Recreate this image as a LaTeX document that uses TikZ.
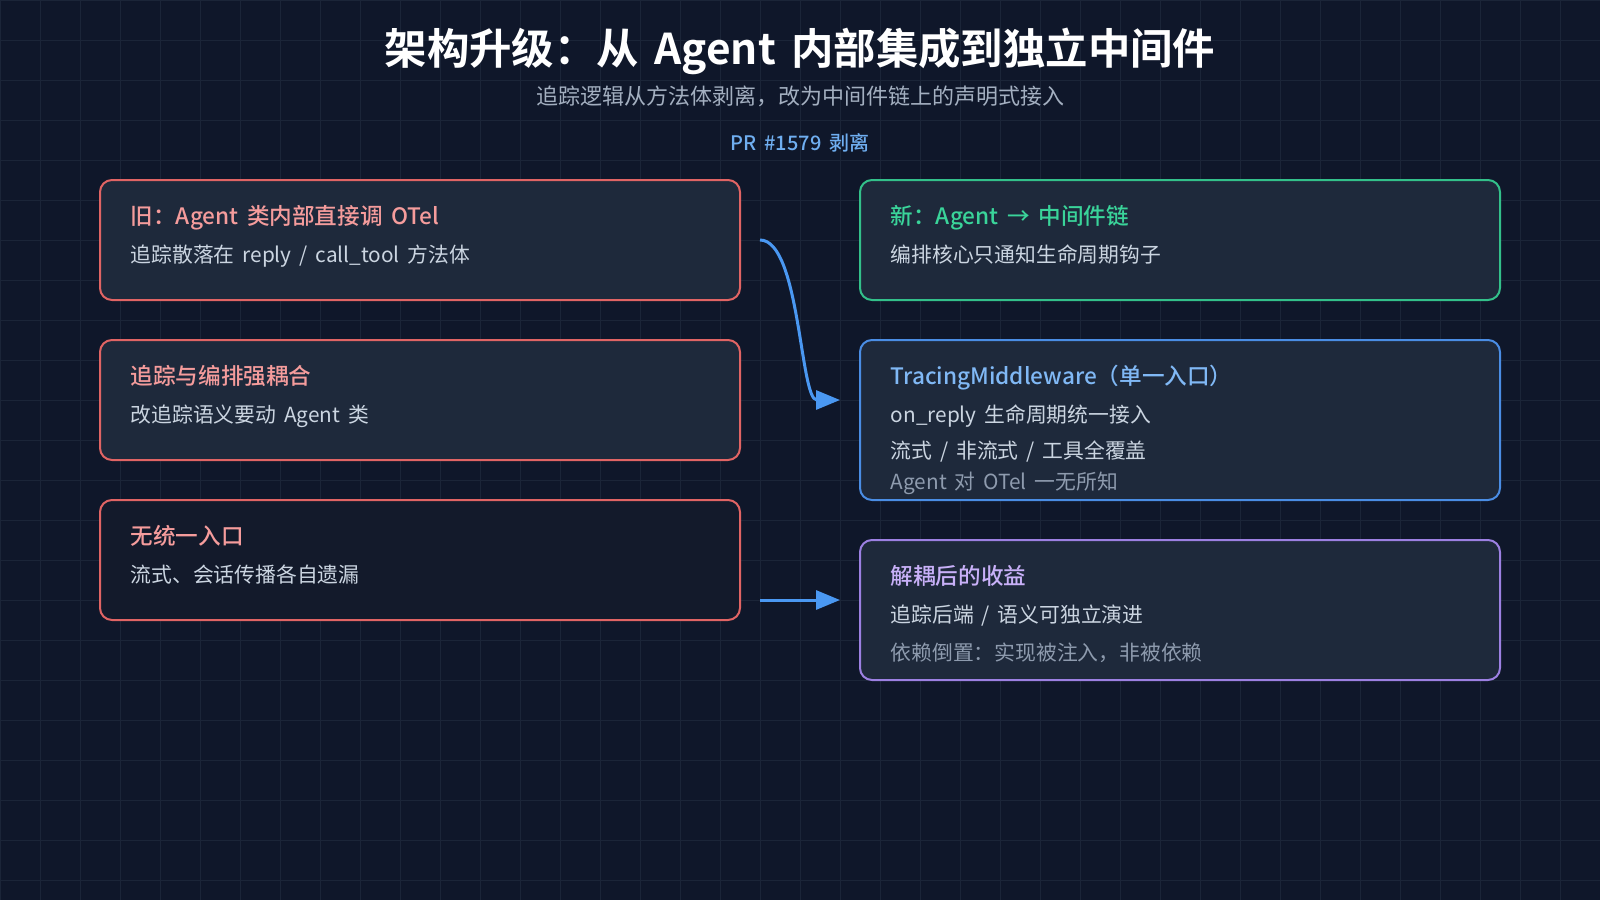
\documentclass[tikz,border=0pt]{standalone}
\usepackage{fontspec}
\setmainfont[WordSpace=1.7, BoldFont={Noto Sans CJK SC Medium}]{Noto Sans CJK SC}
\newfontfamily\titlefont[WordSpace=1.6]{Noto Sans CJK SC Bold}
\usetikzlibrary{arrows.meta}

\definecolor{bgcol}{HTML}{0F172A}
\definecolor{gridcol}{HTML}{1B2538}
\definecolor{cardfill}{HTML}{1E293B}
\definecolor{darkfill}{HTML}{131A2B}
\definecolor{redline}{HTML}{E06464}
\definecolor{redtxt}{HTML}{F59C9C}
\definecolor{greenline}{HTML}{33C08A}
\definecolor{greentxt}{HTML}{3AD49A}
\definecolor{blueline}{HTML}{4A8DE4}
\definecolor{bluetxt}{HTML}{80B8F5}
\definecolor{purpleline}{HTML}{9C80E2}
\definecolor{purpletxt}{HTML}{C8B0F8}
\definecolor{bodytxt}{HTML}{CBD5E1}
\definecolor{mutedtxt}{HTML}{8E9BAE}
\definecolor{subtxt}{HTML}{A3AFC0}
\definecolor{arrowblue}{HTML}{4A98F2}
\definecolor{prtxt}{HTML}{6FAEF0}

\tikzset{every picture/.style={line width=0.75pt}}
\tikzset{
  card/.style={rectangle, rounded corners=6pt, line width=1pt, minimum width=320pt, inner sep=0pt},
  head/.style={anchor=base west, inner sep=0pt, font=\bfseries\fontsize{11.3}{13}\selectfont},
  body/.style={anchor=base west, inner sep=0pt, font=\fontsize{10.4}{12}\selectfont, text=bodytxt},
  flow/.style={arrowblue, line width=1.5pt, -{Triangle[length=12pt,width=9.5pt]}}
}

\begin{document}
\begin{tikzpicture}[x=0.5pt,y=0.5pt,yscale=-1]
\useasboundingbox (0,0) rectangle (1600,900);
% background and grid
\fill [bgcol] (0,0) rectangle (1600,900);
\draw [gridcol, line width=0.5pt, step=20pt] (0,0) grid (1600,900);

% heading
\draw (800,64) node [anchor=base][inner sep=0pt][font=\titlefont\fontsize{21.2}{25}\selectfont, text=white] (title) {架构升级：从 Agent 内部集成到独立中间件};
\draw (800,104) node [anchor=base][inner sep=0pt][font=\fontsize{11}{13}\selectfont, text=subtxt] (subtitle) {追踪逻辑从方法体剥离，改为中间件链上的声明式接入};
\draw (800,150) node [anchor=base][inner sep=0pt][font=\bfseries\fontsize{10}{12}\selectfont, text=prtxt] (pr) {PR \#1579 剥离};

% left column
\node [card, draw=redline, fill=cardfill, minimum height=60pt] (old) at (420,240) {};
\node [card, draw=redline, fill=cardfill, minimum height=60pt] (coupled) at (420,400) {};
\node [card, draw=redline, fill=darkfill, minimum height=60pt] (noentry) at (420,560) {};

\draw (130,224) node [head, text=redtxt] (oldhead) {旧：Agent 类内部直接调 OTel};
\draw (130,262) node [body] (oldbody) {追踪散落在 reply / call\_tool 方法体};
\draw (130,384) node [head, text=redtxt] (couplehead) {追踪与编排强耦合};
\draw (130,422) node [body] (couplebody) {改追踪语义要动 Agent 类};
\draw (130,544) node [head, text=redtxt] (noentryhead) {无统一入口};
\draw (130,582) node [body] (noentrybody) {流式、会话传播各自遗漏};

% right column
\node [card, draw=greenline, fill=cardfill, minimum height=60pt] (new) at (1180,240) {};
\node [card, draw=blueline, fill=cardfill, minimum height=80pt] (tracing) at (1180,420) {};
\node [card, draw=purpleline, fill=cardfill, minimum height=70pt] (gain) at (1180,610) {};

\draw (890,224) node [head, text=greentxt] (newhead) {新：Agent → 中间件链};
\draw (890,262) node [body] (newbody) {编排核心只通知生命周期钩子};
\draw (890,384) node [head, text=bluetxt] (tracinghead) {TracingMiddleware（单一入口）};
\draw (890,422) node [body] (tracingbodya) {on\_reply 生命周期统一接入};
\draw (890,458) node [body] (tracingbodyb) {流式 / 非流式 / 工具全覆盖};
\draw (890,489) node [body, text=mutedtxt] (tracingbodyc) {Agent 对 OTel 一无所知};
\draw (890,584) node [head, text=purpletxt] (gainhead) {解耦后的收益};
\draw (890,622) node [body] (gainbodya) {追踪后端 / 语义可独立演进};
\draw (890,660) node [body, text=mutedtxt] (gainbodyb) {依赖倒置：实现被注入，非被依赖};

% connectors
\coordinate (fromold) at (760,240);
\coordinate (totracing) at (840,400);
\coordinate (fromnoentry) at (760,600);
\coordinate (togain) at (840,600);
\draw [flow] (fromold) .. controls (800,240) and (800,400) .. (totracing);
\draw [flow] (fromnoentry) -- (togain);
\end{tikzpicture}
\end{document}
